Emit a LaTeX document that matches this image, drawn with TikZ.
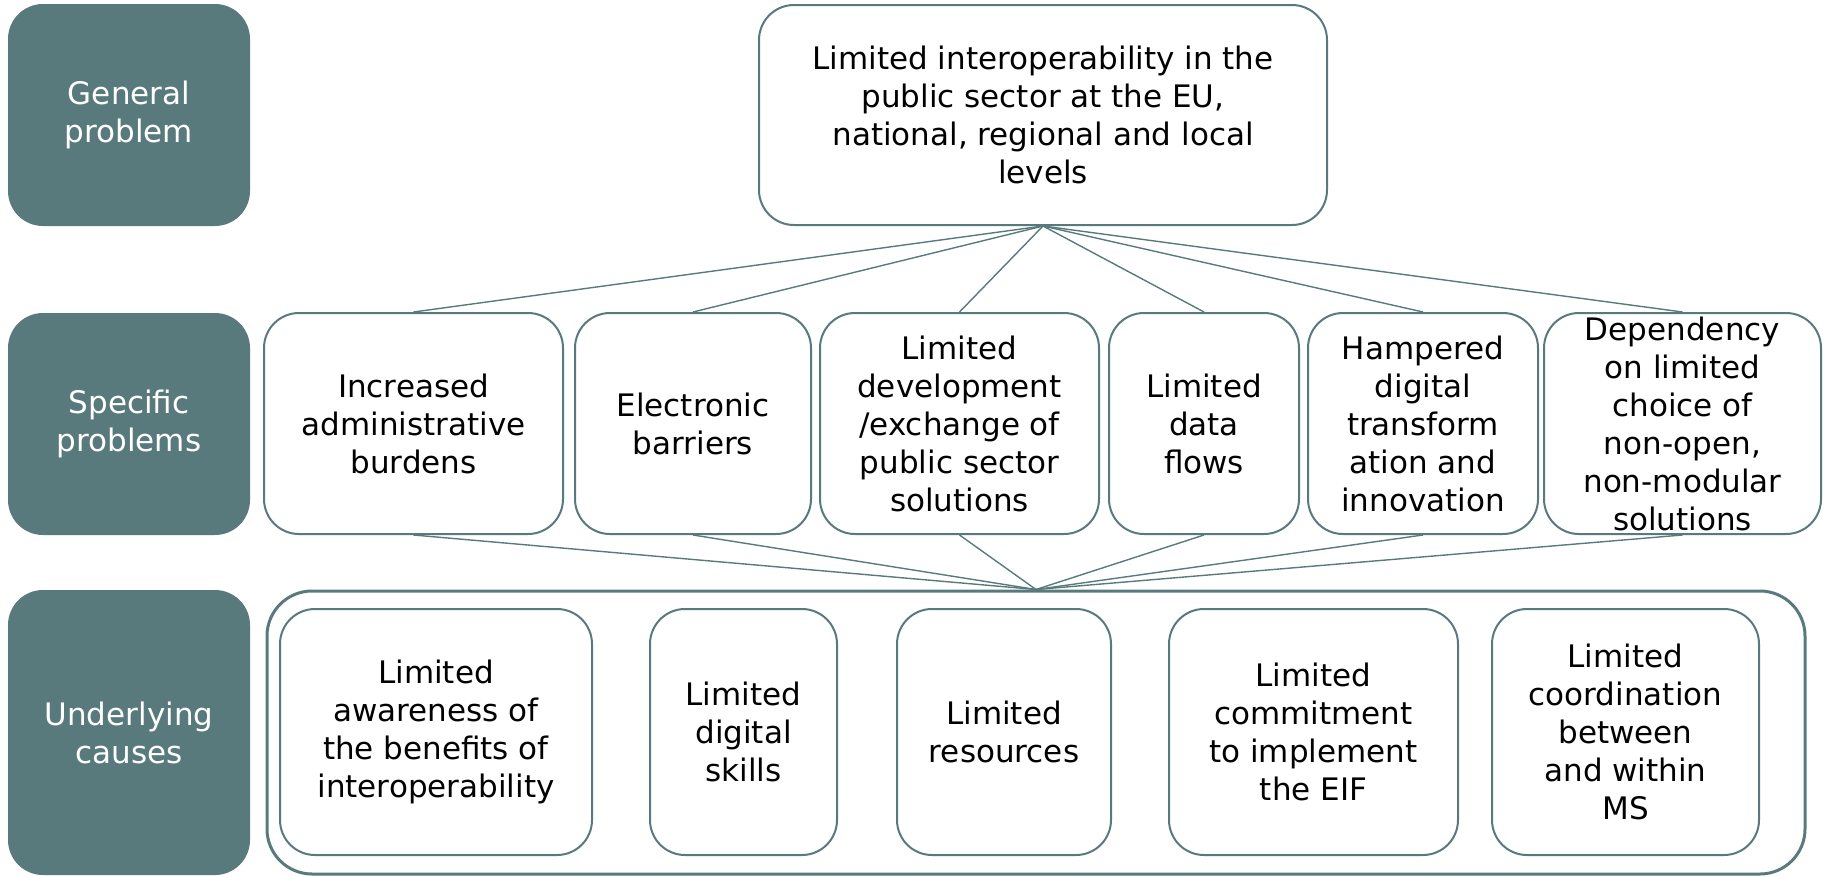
\documentclass[tikz,border=0pt]{standalone}
\usepackage{fontspec}
\setmainfont{DejaVu Sans}
\definecolor{eteal}{RGB}{89,122,125}
\begin{document}
\begin{tikzpicture}[x=1pt,y=-1pt,
  every node/.style={font=\fontsize{31}{38}\selectfont, align=center, inner sep=0pt},
  lab/.style={fill=eteal, draw=none, rounded corners=35pt, text=white},
  pbox/.style={draw=eteal, line width=2pt, rounded corners=35pt, fill=white},
  cont/.style={draw=eteal, line width=3pt, rounded corners=45pt},
  link/.style={draw=eteal, line width=1.4pt}]
\useasboundingbox (0,0) rectangle (1823,876);

% row labels
\node[lab, minimum width=242pt, minimum height=222pt] (lgen) at (129,115) {General\\problem};
\node[lab, minimum width=242pt, minimum height=222pt] (lspec) at (129,424) {Specific\\problems};
\node[lab, minimum width=242pt, minimum height=285pt] (lund) at (129,732.5) {Underlying\\causes};

% general problem
\node[pbox, minimum width=568pt, minimum height=220pt] (top) at (1043,115)
  {Limited interoperability in the\\public sector at the EU,\\national, regional and local\\levels};

% specific problems
\node[pbox, minimum width=299pt, minimum height=221pt] (s1) at (413.5,423.5) {Increased\\administrative\\burdens};
\node[pbox, minimum width=236pt, minimum height=221pt] (s2) at (693,423.5) {Electronic\\barriers};
\node[pbox, minimum width=279pt, minimum height=221pt] (s3) at (959.5,423.5) {Limited\\development\\/exchange of\\public sector\\solutions};
\node[pbox, minimum width=190pt, minimum height=221pt] (s4) at (1204,423.5) {Limited\\data\\flows};
\node[pbox, minimum width=230pt, minimum height=221pt] (s5) at (1423,423.5) {Hampered\\digital\\transform\\ation and\\innovation};
\node[pbox, minimum width=277pt, minimum height=221pt] (s6) at (1682.5,423.5) {};
\node (s6t) at (s6.center) {Dependency\\on limited\\choice of\\non-open,\\non-modular\\solutions};

% underlying causes container
\node[cont, minimum width=1538pt, minimum height=283pt] (cont) at (1036,732.5) {};
\node[pbox, minimum width=312pt, minimum height=246pt] (u1) at (436,732) {Limited\\awareness of\\the benefits of\\interoperability};
\node[pbox, minimum width=187pt, minimum height=246pt] (u2) at (743.5,732) {Limited\\digital\\skills};
\node[pbox, minimum width=214pt, minimum height=246pt] (u3) at (1004,732) {Limited\\resources};
\node[pbox, minimum width=289pt, minimum height=246pt] (u4) at (1313.5,732) {Limited\\commitment\\to implement\\the EIF};
\node[pbox, minimum width=267pt, minimum height=246pt] (u5) at (1625.5,732) {Limited\\coordination\\between\\and within\\MS};

% connectors
\foreach \s in {s1,s2,s3,s4,s5,s6} {
  \draw[link] (top.south) -- (\s.north);
  \draw[link] (\s.south) -- (cont.north);
}
\end{tikzpicture}
\end{document}
